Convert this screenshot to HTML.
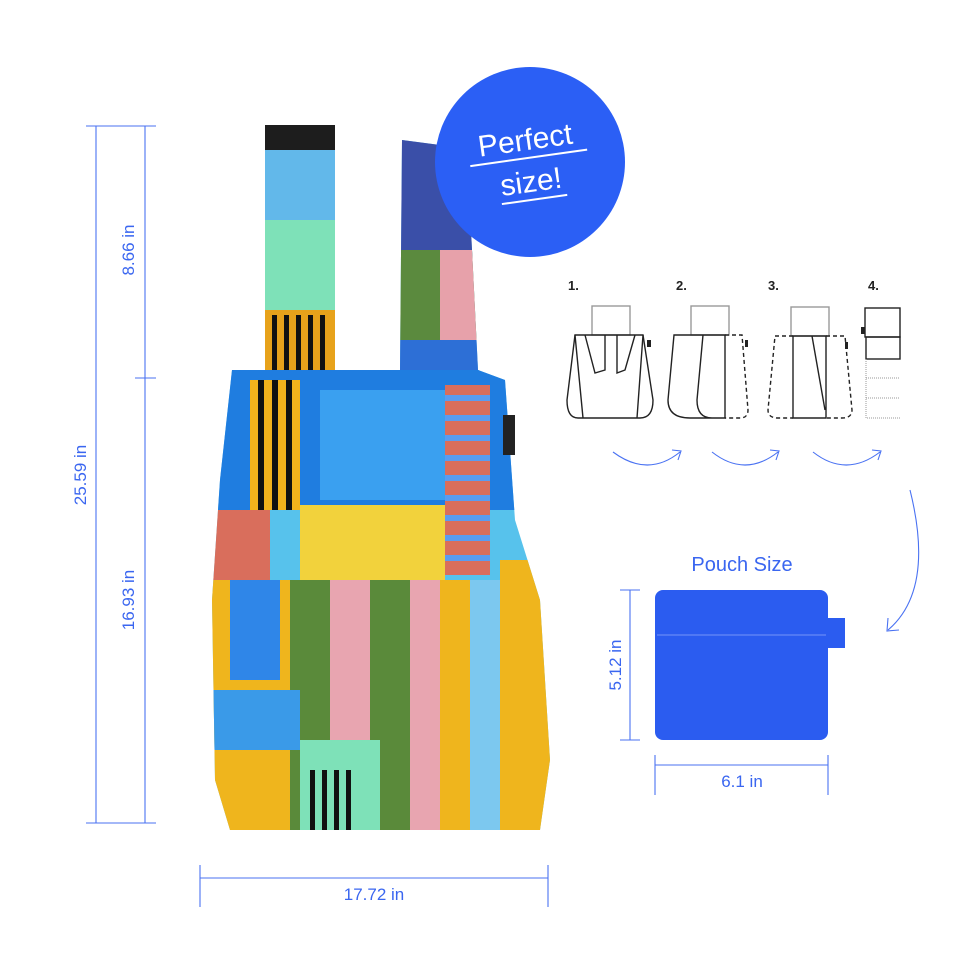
<!DOCTYPE html>
<html><head><style>
html,body{margin:0;padding:0;background:#fff;}
svg text{font-family:"Liberation Sans",sans-serif;}
</style></head><body>
<svg width="960" height="960" viewBox="0 0 960 960" xmlns="http://www.w3.org/2000/svg">
<defs>
<clipPath id="bagc"><path d="M265,125 L335,125 L335,370 L400,370 L402,140 L440,145 L470,210 L478,370 L505,380 L515,520 L540,600 L550,760 L540,830 L230,830 L215,780 L212,600 L220,480 L232,370 L265,370 Z"/></clipPath>
</defs>
<g stroke="#4a72f2" stroke-width="1.1" fill="none">
<line x1="96" y1="126" x2="96" y2="823"/><line x1="86" y1="126" x2="156" y2="126"/><line x1="86" y1="823" x2="156" y2="823"/>
<line x1="145" y1="126" x2="145" y2="823"/><line x1="135" y1="378" x2="156" y2="378"/>
<line x1="200" y1="878" x2="548" y2="878"/><line x1="200" y1="865" x2="200" y2="907"/><line x1="548" y1="865" x2="548" y2="907"/>
<line x1="630" y1="590" x2="630" y2="740"/><line x1="620" y1="590" x2="640" y2="590"/><line x1="620" y1="740" x2="640" y2="740"/>
<line x1="655" y1="765" x2="828" y2="765"/><line x1="655" y1="755" x2="655" y2="795"/><line x1="828" y1="755" x2="828" y2="795"/>
<path d="M613,452 Q648,478 680,452 M672,450 L681,451 L678,460"/>
<path d="M712,452 Q745,478 778,452 M770,450 L779,451 L776,460"/>
<path d="M813,452 Q846,478 880,452 M872,450 L881,451 L878,460"/>
<path d="M910,490 Q935,590 888,630 M888,618 L887,631 L899,630"/>
</g>
<g fill="#3a66f0" font-size="17">
<text x="134" y="250" transform="rotate(-90 134 250)" text-anchor="middle">8.66 in</text>
<text x="86" y="475" transform="rotate(-90 86 475)" text-anchor="middle">25.59 in</text>
<text x="134" y="600" transform="rotate(-90 134 600)" text-anchor="middle">16.93 in</text>
<text x="374" y="900" text-anchor="middle">17.72 in</text>
<text x="621" y="665" transform="rotate(-90 621 665)" text-anchor="middle">5.12 in</text>
<text x="742" y="787" text-anchor="middle">6.1 in</text>
<text x="742" y="571" text-anchor="middle" font-size="20">Pouch Size</text>
</g>
<rect x="655" y="590" width="173" height="150" rx="8" fill="#2b5cf0"/>
<rect x="826" y="618" width="19" height="30" fill="#2b5cf0"/>
<line x1="657" y1="635" x2="826" y2="635" stroke="#5c82f5" stroke-width="1.5"/>
<g font-size="13" font-weight="bold" fill="#222">
<text x="568" y="290">1.</text><text x="676" y="290">2.</text><text x="768" y="290">3.</text><text x="868" y="290">4.</text>
</g>
<g fill="none" stroke="#222" stroke-width="1.4">
<rect x="592" y="306" width="38" height="29" stroke="#999"/>
<path d="M575,335 L643,335 L653,400 Q653,418 640,418 L578,418 Q567,418 567,400 Z"/>
<path d="M585,335 L595,373 L605,370 L605,335 M635,335 L625,370 L617,373 L617,335 M575,335 L583,418 M643,335 L637,418"/>
<rect x="691" y="306" width="38" height="29" stroke="#999"/>
<path d="M703,335 L725,335 L725,418 L690,418 Q668,418 668,400 L674,335 Z M703,335 L697,400 Q697,418 712,418"/>
<path d="M725,335 L742,335 L748,410 Q748,418 740,418 L725,418" stroke-dasharray="4,3"/>
<rect x="791" y="307" width="38" height="29" stroke="#999"/>
<path d="M793,336 L826,336 L826,418 L793,418 Z M812,336 L825,410"/>
<path d="M793,336 L775,336 L768,410 Q768,418 778,418 L793,418 M826,336 L845,336 L852,410 Q852,418 842,418 L826,418" stroke-dasharray="4,3"/>
<rect x="865" y="308" width="35" height="29"/><rect x="866" y="337" width="34" height="22"/>
<path d="M866,359 L866,418 L900,418 M866,378 L900,378 M866,398 L900,398" stroke="#999" stroke-dasharray="1,1" stroke-width="1"/>
</g>
<g fill="#222"><rect x="647" y="340" width="4" height="7"/><rect x="745" y="340" width="3" height="7"/><rect x="845" y="342" width="3" height="7"/><rect x="861" y="327" width="4" height="7"/></g>
<g clip-path="url(#bagc)">
<rect x="200" y="120" width="360" height="720" fill="#57c2ec"/>
<rect x="265" y="125" width="70" height="60" fill="#1d1d1d"/>
<rect x="265" y="150" width="70" height="70" fill="#62b8ea"/>
<rect x="265" y="220" width="70" height="90" fill="#7ee1b8"/>
<rect x="265" y="310" width="70" height="70" fill="#e7a21b"/>
<g fill="#111"><rect x="272" y="315" width="5" height="60"/><rect x="284" y="315" width="5" height="60"/><rect x="296" y="315" width="5" height="60"/><rect x="308" y="315" width="5" height="60"/><rect x="320" y="315" width="5" height="60"/></g>
<rect x="400" y="140" width="80" height="120" fill="#3a4fa8"/>
<rect x="400" y="250" width="80" height="90" fill="#5b8a3e"/>
<rect x="440" y="250" width="40" height="90" fill="#e7a1aa"/>
<rect x="400" y="340" width="80" height="40" fill="#2d6fd6"/>
<rect x="210" y="370" width="350" height="140" fill="#1f7de0"/>
<rect x="250" y="380" width="50" height="130" fill="#f2b21c"/>
<g fill="#111"><rect x="258" y="380" width="6" height="130"/><rect x="272" y="380" width="6" height="130"/><rect x="286" y="380" width="6" height="130"/></g>
<rect x="320" y="390" width="130" height="110" fill="#3aa0f0"/>
<rect x="445" y="385" width="45" height="190" fill="#d96e5c"/>
<g fill="#5a9cf0"><rect x="445" y="395" width="45" height="6"/><rect x="445" y="415" width="45" height="6"/><rect x="445" y="435" width="45" height="6"/><rect x="445" y="455" width="45" height="6"/><rect x="445" y="475" width="45" height="6"/><rect x="445" y="495" width="45" height="6"/><rect x="445" y="515" width="45" height="6"/><rect x="445" y="535" width="45" height="6"/><rect x="445" y="555" width="45" height="6"/></g>
<rect x="300" y="505" width="145" height="75" fill="#f2d23c"/>
<rect x="210" y="510" width="60" height="70" fill="#d96e5c"/>
<rect x="210" y="580" width="80" height="260" fill="#efb51d"/>
<rect x="230" y="580" width="50" height="100" fill="#2f86e8"/>
<rect x="290" y="580" width="40" height="250" fill="#5a8a3a"/>
<rect x="330" y="580" width="40" height="250" fill="#e8a5b0"/>
<rect x="370" y="580" width="40" height="250" fill="#5a8a3a"/>
<rect x="410" y="580" width="30" height="250" fill="#e8a5b0"/>
<rect x="440" y="580" width="30" height="250" fill="#efb51d"/>
<rect x="470" y="580" width="30" height="250" fill="#7cc8ef"/>
<rect x="500" y="560" width="50" height="280" fill="#efb51d"/>
<rect x="300" y="740" width="80" height="100" fill="#7ee1b8"/>
<g fill="#111"><rect x="310" y="770" width="5" height="60"/><rect x="322" y="770" width="5" height="60"/><rect x="334" y="770" width="5" height="60"/><rect x="346" y="770" width="5" height="60"/></g>
<rect x="210" y="690" width="90" height="60" fill="#3a9ae8"/>
</g>
<rect x="503" y="415" width="12" height="40" fill="#222"/>
<circle cx="530" cy="162" r="95" fill="#2b5ff5"/>
<g transform="rotate(-8 528 160)" fill="#fff" font-size="30">
<text x="528" y="150" text-anchor="middle">Perfect</text>
<rect x="470" y="157" width="118" height="2"/>
<text x="528" y="192" text-anchor="middle">size!</text>
<rect x="496" y="199" width="66" height="2"/>
</g>
</svg>
</body></html>
